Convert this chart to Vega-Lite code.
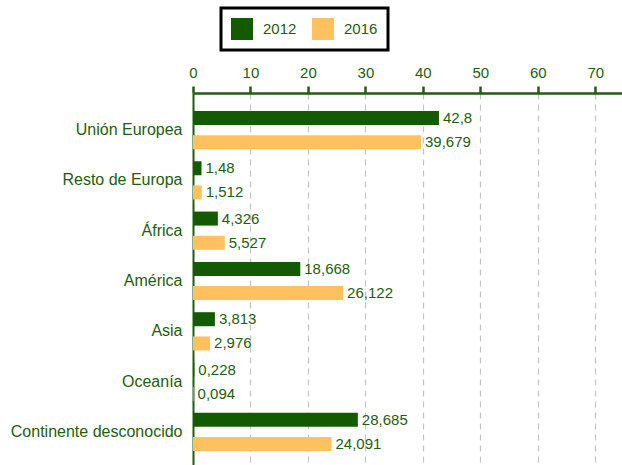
{
  "$schema": "https://vega.github.io/schema/vega-lite/v6.json",
  "width": 431,
  "height": 376,
  "autosize": "none",
  "padding": {"left": 193, "top": 93, "right": 0, "bottom": 0},
  "background": "white",
  "data": {
    "values": [
      {"region": "Unión Europea", "year": "2012", "value": 42.8},
      {"region": "Unión Europea", "year": "2016", "value": 39.679},
      {"region": "Resto de Europa", "year": "2012", "value": 1.48},
      {"region": "Resto de Europa", "year": "2016", "value": 1.512},
      {"region": "África", "year": "2012", "value": 4.326},
      {"region": "África", "year": "2016", "value": 5.527},
      {"region": "América", "year": "2012", "value": 18.668},
      {"region": "América", "year": "2016", "value": 26.122},
      {"region": "Asia", "year": "2012", "value": 3.813},
      {"region": "Asia", "year": "2016", "value": 2.976},
      {"region": "Oceanía", "year": "2012", "value": 0.228},
      {"region": "Oceanía", "year": "2016", "value": 0.094},
      {"region": "Continente desconocido", "year": "2012", "value": 28.685},
      {"region": "Continente desconocido", "year": "2016", "value": 24.091}
    ]
  },
  "encoding": {
    "y": {
      "field": "region", "type": "nominal", "sort": null,
      "scale": {"paddingInner": 0, "paddingOuter": 0.236},
      "axis": {"title": null, "ticks": false, "labelFontSize": 16, "labelFont": "Liberation Sans", "labelColor": "#1e5e0c", "labelPadding": 11, "domainColor": "#1e5e0c", "domainWidth": 2, "grid": false}
    },
    "yOffset": {
      "field": "year", "type": "nominal",
      "scale": {"paddingInner": 0.421, "paddingOuter": 0.25}
    },
    "x": {
      "field": "value", "type": "quantitative",
      "scale": {"domain": [0, 75], "nice": false},
      "axis": {"orient": "top", "title": null, "values": [0, 10, 20, 30, 40, 50, 60, 70], "format": "d", "labelFlush": false, "labelFontSize": 15, "labelFont": "Liberation Sans", "labelColor": "#1e5e0c", "domainColor": "#1e5e0c", "domainWidth": 2.5, "tickColor": "#1e5e0c", "tickWidth": 2.5, "tickSize": 7, "labelPadding": 6, "grid": true, "gridColor": "#c4c4c4", "gridDash": [6, 5], "gridWidth": 1.2}
    }
  },
  "layer": [
    {
      "mark": {"type": "bar"},
      "encoding": {
        "color": {
          "field": "year", "type": "nominal",
          "scale": {"domain": ["2012", "2016"], "range": ["#145a00", "#ffc060"]},
          "legend": {
            "title": null, "orient": "none", "direction": "horizontal",
            "legendX": 28, "legendY": -85,
            "symbolType": "square", "symbolSize": 484, "symbolStrokeWidth": 0, "symbolOpacity": 1,
            "labelFontSize": 15, "labelFont": "Liberation Sans", "labelColor": "#1e5e0c", "labelOffset": 10,
            "columnPadding": 15, "padding": 10, "strokeColor": "black"
          }
        }
      }
    },
    {
      "mark": {"type": "text", "align": "left", "baseline": "middle", "dx": 4, "font": "Liberation Sans", "fontSize": 15, "color": "#1e5e0c"},
      "encoding": {
        "text": {"field": "value", "type": "quantitative", "format": ".3~f"}
      }
    }
  ],
  "config": {
    "view": {"stroke": null},
    "legend": {"strokeWidth": 3},
    "locale": {"number": {"decimal": ",", "thousands": ".", "grouping": [3], "currency": ["", " €"]}}
  }
}
